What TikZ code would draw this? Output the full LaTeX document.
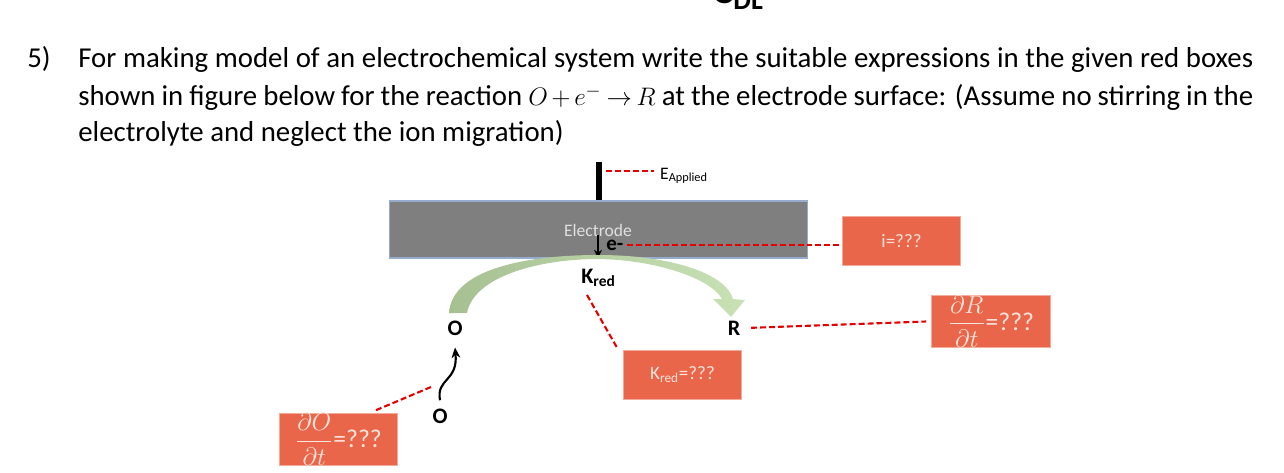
\documentclass[tikz,border=0pt]{standalone}
\usepackage{fontspec}
\setmainfont{Carlito}
\usepackage{amsmath}
\usetikzlibrary{arrows.meta}

\definecolor{boxred}{RGB}{233,102,74}
\definecolor{boxtext}{RGB}{250,228,220}
\definecolor{elgray}{RGB}{127,127,127}
\definecolor{elborder}{RGB}{150,172,205}
\definecolor{arcdark}{RGB}{166,192,146}
\definecolor{arclight}{RGB}{200,226,182}

\tikzset{
  redbox/.style={fill=boxred, draw=boxred!55!white, line width=0.4pt, text=boxtext,
    minimum width=2.37cm, minimum height=0.98cm, inner sep=0pt,
    font=\fontsize{10.8}{12}\selectfont},
  link/.style={red!90!black, line width=1.2pt, dash pattern=on 3.4pt off 1.7pt},
  species/.style={font=\fontsize{12.6}{14}\selectfont\bfseries, inner sep=0pt},
  qline/.style={anchor=base west, inner sep=0pt, font=\fontsize{16.4}{19}\selectfont},
}

\begin{document}
\begin{tikzpicture}[x=0.02cm, y=-0.02cm]
\useasboundingbox (0,0) rectangle (1284,473);

% cut-off label at the top
\node[anchor=base west, inner sep=0pt, font=\fontsize{22.7}{26}\selectfont\bfseries] (cdl) at (712,4) {C\textsubscript{DL}};

% question
\node[qline] (qnum) at (27,68) {5)};
\node[qline] (qline1) at (78,68) {\makebox[23.5cm][s]{For making model of an electrochemical system write the suitable expressions in the given red boxes}};
\node[qline] (qline2) at (78,106) {\makebox[23.5cm][s]{shown in figure below for the reaction {\fontsize{15}{17}\selectfont\medmuskip=2.5mu\thickmuskip=3.5mu$O+e^{-}\rightarrow R$} at the electrode surface: (Assume no stirring in the}};
\node[qline] (qline3) at (78,141) {electrolyte and neglect the ion migration)};

% electrode
\node[fill=elgray, draw=elborder, line width=0.6pt, minimum width=8.38cm, minimum height=1.14cm, inner sep=0pt] (electrode) at (598.5,229.5) {};
\node[anchor=base, inner sep=0pt, text=white!88!black, font=\fontsize{10}{11}\selectfont] (ellabel) at (598,236) {Electrode};
\coordinate (bartop) at (599,162);
\draw[line width=3.4pt] (bartop) -- (bartop |- electrode.north);
\coordinate (barside) at (606,171);
\node[anchor=base west, font=\fontsize{10}{12}\selectfont] (eapp) at (654,179) {E\textsubscript{Applied}};
\draw[link] (barside) -- (barside -| eapp.west);

% electron transfer
\coordinate (etop) at (598,235);
\draw[-{Stealth[length=5pt,width=4.5pt]}, line width=1pt] (etop) -- (etop |- electrode.south);
\node[anchor=base west, inner sep=0pt, font=\fontsize{12}{13}\selectfont\bfseries] (eminus) at (606,250) {e-};
\node[redbox] (ibox) at (901.5,241) {i=???};
\draw[link] ([xshift=2pt]eminus.east) -- (eminus.east -| ibox.west);

% reaction arc O -> R
\shade[left color=arcdark, right color=arclight]
  (449,313) .. controls (452,268) and (530,255) .. (598,255)
  .. controls (672,255) and (726,274) .. (733,299)
  -- (745,300) -- (731,317) -- (713,299) -- (722,299)
  .. controls (712,280) and (660,260) .. (598,259)
  .. controls (540,259) and (474,276) .. (467,313) -- cycle;

\node[species, anchor=base] (oup) at (455,335) {O};
\node[species, anchor=base] (r) at (734,335) {R};
\node[species, anchor=base west] (kred) at (581,283) {K\textsubscript{red}};

% species from the bulk
\node[species, anchor=base] (olow) at (440,423) {O};
\draw[-{Stealth[length=6pt,width=5pt]}, line width=1.2pt]
  ([yshift=4.5pt]olow.north) .. controls (436,378) and (458,382) .. ([yshift=-6.8pt]oup.south);

% answer boxes
\node[redbox] (kbox) at (682.5,374.5) {K\textsubscript{red}=???};
\node[redbox, font=\fontsize{14.6}{16}\selectfont] (rbox) at (991,321.5) {$\displaystyle\frac{\partial R}{\partial t}$=???};
\node[redbox, font=\fontsize{14.6}{16}\selectfont] (obox) at (338.5,439) {$\displaystyle\frac{\partial O}{\partial t}$=???};

\coordinate (kredend) at (587,295);
\draw[link] (kredend) -- ([shift={(-3pt,0.5pt)}]kbox.north west);
\draw[link] ([xshift=6pt]r.east) -- ([xshift=-3pt]rbox.west);
\coordinate (odash) at (431,387);
\coordinate (oend) at (374,411);
\draw[link] (odash) -- (oend);
\end{tikzpicture}
\end{document}
